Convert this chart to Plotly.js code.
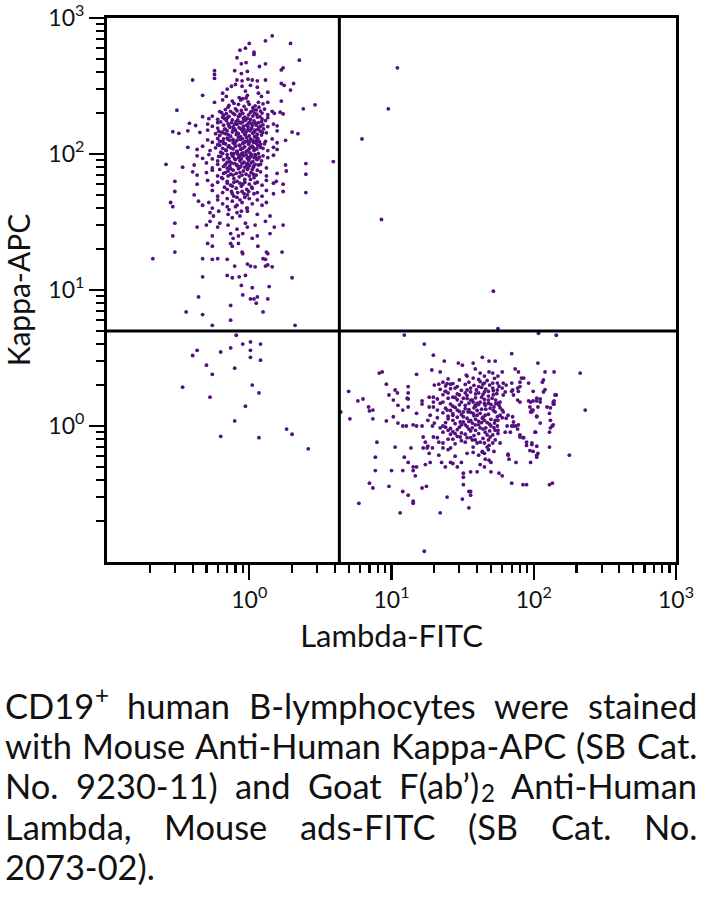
<!DOCTYPE html>
<html><head><meta charset="utf-8">
<script src="https://cdn.plot.ly/plotly-3.0.1.min.js"></script>
<style>html,body{margin:0;padding:0;background:#fff;}#chart{width:706px;height:908px;}</style>
</head><body><div id="chart"></div>
<script>
// ---- data: events as [Lambda-FITC, Kappa-APC] ----
const kappaEvents = [
[1.45,740],[1.3,680],[1.95,650],[1.0,650],[0.94,600],[0.86,580],[1.08,560],[1.08,540],[0.82,510],[2.25,490],[0.95,470],[0.88,460],[1.18,440],[1.3,460],[1.73,430],[1.68,415],[0.57,410],[0.57,385],[0.57,360],[0.79,410],[0.97,405],[0.88,390],[0.4,350],[0.82,350],[0.89,345],[0.98,355],[1.05,350],[1.14,345],[1.3,350],[1.68,330],[1.76,320],[2.05,330],[0.8,325],[0.75,315],[0.89,315],[1.02,320],[1.14,310],[1.35,285],[1.95,295],[0.7,300],[0.65,280],[0.94,290],[0.97,270],[1.16,280],[1.22,265],[0.47,270],[0.85,260],[0.87,250],[0.9,255],[0.95,258],[1.68,245],[1.35,240],[1.16,240],[2.9,230],[0.57,240],[0.65,250],[0.69,265],[2.4,215],[0.31,210],
[0.62,205],[0.69,198],[0.82,208],[0.86,196],[1.02,202],[1.07,210],[1.23,200],[1.35,195],[1.45,206],[1.5,199],[1.65,203],[1.73,197],
[0.47,188],[0.52,182],[0.55,190],[0.6,180],[0.65,186],[0.7,184],[0.76,178],[0.84,189],[0.91,183],[1.02,180],[1.14,187],[1.23,181],[1.35,185],
[0.38,168],[0.42,162],[0.51,166],[0.55,160],[0.6,170],[0.66,163],[0.71,167],[0.77,158],[0.82,165],[0.86,171],[0.91,160],[0.98,166],[1.05,162],[1.1,169],[1.25,164],[1.35,159],[1.48,166],[1.57,161],
[0.29,146],[0.32,142],[0.37,148],[0.45,144],[0.51,150],[0.58,141],[0.61,147],[0.65,143],[0.68,152],[0.71,139],[0.76,145],[0.8,149],[0.84,141],[0.9,146],[0.94,138],[0.98,151],[1.07,144],[1.14,140],[1.2,147],[1.32,143],[1.57,148],[2.0,145],[2.2,141],
[0.51,127],[0.55,122],[0.6,130],[0.65,124],[0.68,119],[0.71,128],[0.77,121],[0.82,126],[0.86,131],[0.9,120],[0.97,125],[1.02,129],[1.07,122],[1.14,127],[1.2,118],[1.3,124],[1.45,129],[1.57,121],[1.8,126],
[0.37,112],[0.43,108],[0.47,114],[0.53,106],[0.58,111],[0.62,116],[0.68,107],[0.71,113],[0.77,109],[0.82,104],[0.86,115],[0.9,110],[0.97,106],[1.02,112],[1.1,108],[1.15,115],[1.25,110],[1.35,106],[1.48,112],[1.57,108],
[0.43,97],[0.47,93],[0.52,99],[0.55,92],[0.61,96],[0.65,101],[0.7,94],[0.76,98],[0.8,91],[0.86,97],[0.9,102],[0.97,93],[1.02,96],[1.1,99],[1.15,92],[1.25,97],[1.35,94],[1.48,98],
[0.26,84],[0.34,80],[0.41,83],[0.5,86],[0.55,79],[0.6,84],[0.66,81],[0.7,87],[0.74,78],[0.82,83],[0.86,80],[0.97,85],[1.07,81],[1.2,84],[1.32,79],[1.8,83],[2.5,85],[3.9,88],
[0.4,74],[0.43,70],[0.5,73],[0.55,76],[0.6,69],[0.66,72],[0.71,75],[0.77,70],[0.86,73],[0.97,77],[1.07,71],[1.2,74],[1.32,69],[1.57,72],[1.82,75],[2.5,71],
[0.3,63],[0.43,60],[0.51,64],[0.55,59],[0.6,62],[0.65,66],[0.7,61],[0.76,58],[0.82,63],[0.9,60],[1.02,65],[1.14,62],[1.23,59],[1.32,64],[1.48,61],[1.55,63],[1.73,60],
[0.3,53],[0.41,50],[0.55,54],[0.6,49],[0.65,52],[0.7,55],[0.76,51],[0.82,48],[0.89,53],[0.97,50],[1.05,56],[1.14,52],[1.23,49],[1.32,54],[1.48,51],[1.73,53],[2.5,52],
[0.28,44],[0.29,41],[0.44,45],[0.47,42],[0.52,44],[0.55,40],[0.6,46],[0.65,43],[0.7,41],[0.76,45],[0.82,42],[0.89,44],[0.97,40],[1.05,43],[1.14,46],[1.23,42],[1.32,44],
[0.53,37],[0.56,35],[0.61,38],[0.71,36],[0.76,34],[0.82,37],[0.86,35],[0.97,38],[1.14,36],[1.4,35],
[0.3,31],[0.43,29],[0.5,30],[0.53,32],[0.6,29],[0.62,31],[0.71,30],[0.82,28],[0.94,31],[0.97,29],[1.1,30],[1.3,32],[1.5,29],[1.73,30],
[0.55,25],[0.74,26],[0.77,24],[0.84,25],[0.9,26],[1.05,24],[1.14,25],[1.4,26],[0.29,25],
[0.51,22],[0.55,21],[0.74,22],[0.76,21],[0.84,22],[1.15,21],
[0.3,19],[0.89,19],[0.9,18.5],[1.32,19],[1.35,18.5],[1.7,19],
[0.21,17],[0.47,17],[0.55,16.8],[0.6,17],[0.7,16.8],[1.25,17],[1.3,16.8],
[0.79,15],[0.97,15.5],[1.02,15],[1.1,14.8],[1.3,15],[1.35,15.3],[1.45,14.8],
[0.47,12.5],[0.7,12.8],[0.76,12.3],[0.85,12.5],[0.94,12.8],[2.0,12.3],
[0.88,10.8],[1.05,10.4],[1.38,10.6],
[0.44,8.9],[0.9,9.2],[1.02,8.6],[1.08,8.6],[1.14,8.9],[1.35,8.6],[0.74,7.7],[1.12,8.0],[0.36,6.9],[0.47,6.6],[1.25,6.9],[0.55,5.5],[0.74,6.0],[2.1,5.5],
[0.72,228],[0.78,236],[0.92,224],[1.0,232],[1.1,226],[1.25,234],
[0.68,212],[0.74,206],[0.8,215],[0.88,209],[0.95,213],[1.03,205],[1.12,211],[1.2,207],[1.28,214],
[0.66,193],[0.72,189],[0.79,195],[0.86,191],[0.93,187],[0.99,194],[1.06,190],[1.13,196],[1.19,188],
[0.63,172],[0.69,176],[0.75,170],[0.81,174],[0.87,169],[0.94,177],[1.0,171],[1.08,175],[1.16,170],[1.22,173],[1.3,176],
[0.6,155],[0.67,152],[0.73,157],[0.79,153],[0.85,156],[0.92,151],[0.98,158],[1.04,154],[1.1,150],[1.17,157],[1.26,153],
[0.62,137],[0.68,141],[0.74,135],[0.81,139],[0.87,134],[0.93,140],[1.0,136],[1.06,142],[1.12,133],[1.22,138],
[0.7,131],[0.77,128],[0.84,133],[0.9,129],[0.96,132],[1.03,127],[1.09,134],[1.15,130],
[0.6,117],[0.66,120],[0.72,115],[0.79,119],[0.85,116],[0.92,121],[0.99,118],[1.05,114],[1.12,120],[1.19,116],[1.28,119],
[0.63,103],[0.69,106],[0.75,101],[0.82,105],[0.88,100],[0.95,104],[1.01,102],[1.08,106],[1.16,101],
[0.7,99],[0.77,96],[0.83,100],[0.91,97],[0.97,95],[1.04,99],[1.11,96],
[0.6,89],[0.66,91],[0.73,88],[0.79,92],[0.86,89],[0.92,87],[0.99,90],[1.06,88],[1.13,91],[1.22,89],
[0.68,84],[0.75,86],[0.82,82],[0.89,85],[0.96,83],[1.03,86],[1.1,84],
[0.62,77],[0.7,79],[0.77,76],[0.84,78],[0.91,75],[0.98,79],[1.05,77],[1.14,76],
[0.64,67],[0.71,69],[0.78,66],[0.85,68],[0.93,65],[1.0,69],[1.08,67],
[0.67,57],[0.74,59],[0.81,56],[0.88,58],[0.96,55],[1.04,57],
[0.7,47],[0.78,49],[0.86,46],[0.93,48],[1.0,47],
[0.72,39],[0.8,41],[0.88,38],[0.96,40],
[0.76,245],[0.84,232],[0.98,242],[1.06,219],[0.71,221],[0.9,199],[0.97,183],[1.09,198],[0.77,199],[0.64,201],[1.17,221],
[0.83,178],[0.9,172],[0.96,163],[1.04,168],[0.72,161],[0.79,166],[1.12,163],[1.2,160],[0.67,182],
[0.7,148],[0.77,151],[0.82,143],[0.88,152],[0.95,145],[1.01,148],[1.09,146],[1.15,152],[1.24,144],[0.64,145],
[0.73,126],[0.8,123],[0.87,128],[0.94,123],[1.0,122],[1.06,126],[1.12,125],[1.18,123],[0.66,129],[0.62,124],
[0.74,111],[0.8,114],[0.87,108],[0.93,113],[1.0,109],[1.07,111],[1.13,109],[1.2,112],[0.65,110],
[0.72,93],[0.78,101],[0.84,94],[0.88,92],[0.95,99],[1.0,93],[1.08,94],[1.18,95],[0.63,96],
[0.73,82],[0.79,85],[0.87,81],[0.93,80],[1.0,82],[1.07,80],[1.16,83],
[0.68,73],[0.74,71],[0.81,72],[0.89,70],[0.95,71],[1.03,73],[1.12,70],
[0.7,63],[0.78,62],[0.86,61],[0.93,62],[1.0,60],[1.1,61],
[0.75,53],[0.83,52],[0.92,51],[0.99,53],[1.08,51]
];
const lambdaEvents = [
[12.3,4.66],[17,4.0],[19.7,3.32],[23.5,3.0],[29.5,2.9],[31.5,2.8],[8.2,2.45],[8.6,2.5],[15,2.4],[19.2,2.58],[22,2.5],[5.0,1.8],[4.4,1.27],[5.1,1.13],[9.2,2.03],[9.6,1.69],[10.6,1.84],[11,1.75],[13.1,1.95],[13.1,1.75],[12.9,1.6],[13.1,1.58],
[7.4,1.31],[7.4,1.13],[9.2,1.09],[10.3,1.17],[12,1.31],[13.1,1.38],[15,1.24],[16.4,1.53],[16.4,1.45],[18.4,1.63],[18.4,1.38],[21.5,2.03],[23,2.1],[24.6,2.05],[26,2.03],[23.9,1.8],[19.7,1.5],[21,1.31],[5.8,1.53],[6.3,1.58],[6.9,1.38],[7,1.29],[10.3,1.55],[11.1,1.42],[11.1,1.05],[12,1.0],[12.7,1.0],[14.2,1.02],[15,1.0],[16.4,1.0],[7.9,0.76],[10.6,0.7],[13.7,0.69],[7.7,0.59],[7.7,0.47],[10,0.47],[12,0.47],[12.3,0.59],[13.1,0.54],[14.2,0.5],[14.2,0.47],[15,0.5],[14.7,0.43],[16.7,0.69],[18.4,0.63],[17.3,0.52],[18.7,0.54],[21.5,0.61],[22.5,0.54],[23.9,0.5],[26,0.54],[7,0.38],[7.4,0.35],[9.6,0.36],[12,0.33],[13.1,0.31],[14.2,0.28],[14.2,0.27],[16.4,0.35],[17.6,0.36],[5.9,0.27],[11.5,0.23],[22,0.23],[24.6,0.3],[31.5,0.29],[17,0.12],[32,0.45],[32,0.37],[35,0.33],[35,0.25],
[70,3.4],[43.5,3.2],[37.5,2.9],[48.5,3.0],[53.6,3.0],[107,2.9],[212,2.45],[230,1.31],[178,0.61],[129,0.7],[38.8,2.63],[42,2.45],[45,2.33],[48.5,2.5],[51.5,2.45],[60,2.5],[56,2.33],[34,2.33],[37.5,2.25],[74,2.63],[78,2.5],[82,2.25],[70,2.07],[92,2.07],[115,2.1],[117,2.18],[120,2.5],[139,2.5],[99,1.8],[117,1.78],[120,1.85],[139,1.53],[139,1.45],[144,1.69],[129,1.24],[95,1.5],[95,1.27],[99,1.31],[107,1.38],[105,1.18],[111,1.05],[135,1.0],[137,1.02],[129,0.9],[103,0.9],[89,0.72],[97,0.73],[94,0.66],[99,0.65],[105,0.59],[107,0.63],[95,0.54],[70,0.38],[84,0.37],[89,0.37],[129,0.37],[135,0.38],[66,0.62],[67,0.57],[75,0.54],[78,1.02],[80,0.86],[84,0.82],[72,1.07],[70,1.0],[75,1.0],[64,1.14],[65,1.0],[92,1.53],[99,1.53],[105,1.53],[94,1.38],[97,1.31],[105,1.6],[111,1.58],[124,1.38],[131,1.36],[70,1.8],[80,1.95],[78,1.8],[72,1.69],[77,1.55],[61,1.69],[58,1.5],[56,1.47],[60,1.31],[58,1.2],[53.6,1.1],[55.5,1.0],[53.6,0.93],[56,0.88],[49.4,0.83],[51.5,0.75],[47,0.7],[48.5,0.72],[45,0.63],[45.6,0.57],[48.5,0.56],[50,0.54],[42,0.52],[45,0.5],[50,0.46],[57,0.45],[60,0.43],[36,0.46],[40,0.46],[32,0.42],[36,0.33],[36,0.31],[27,0.53],[29,0.5],[31,0.54],[28,0.6],[26,0.69],[34,0.63],[37.5,0.64],[41,0.61],[43.5,0.64],
[33.5,2.37],[28,1.9],[34,1.84],[36,1.78],[41,1.95],[25,1.75],[27,1.63],[30,1.69],[32,1.6],[37.5,1.5],[40,1.47],[19.7,1.63],[19.7,1.38],[22,1.47],[18.7,1.2],[18,1.1],[19.4,1.0],[24.6,1.31],[27,1.2],[29,1.31],[32,1.27],[34.5,1.27],[37.5,1.24],[30.4,1.07],[33,1.02],[37,0.97],[41,1.02],[23,1.0],[25,0.93],[28,0.88],[30.4,0.83],[34,0.82],[38.8,0.79],[37.5,0.7],[19.7,0.83],[21.5,0.76],[17.8,0.69],[19.4,0.69],[23,0.69],[25,0.67],[16.7,0.83],[17.3,0.76],[18,0.71],
[45,2.07],[51.5,2.07],[55.5,2.07],[61,2.07],[64,2.0],[80,2.1],[85,2.25],[39.5,1.84],[41,1.75],[51.5,1.9],[55.5,1.84],[60,1.9],[63,1.78],[71,1.84],[77,1.9],[141,1.69],[80,1.5],[111,1.5],[137,1.5],[137,1.45],[36,1.55],[38.8,1.42],[42,1.5],[45.6,1.42],[48,1.47],[49.4,1.35],[52.5,1.38],[58,1.36],[61,1.27],[66,1.2],[71,1.17],[53.6,1.27],[55.5,1.17],[97,1.27],[105,1.17],[131,1.1],[131,0.97],[102,0.9],[40,1.2],[43.5,1.14],[45.6,1.2],[36,1.1],[38.8,1.02],[42,0.97],[45.6,0.9],[50,1.0],[52.5,0.97],[51.5,0.86],[56,0.93],[63,0.9],[68.4,0.9],[72,1.0],[77,0.95],[80,0.83],[85,0.82],[37,0.79],[40,0.75],[45,0.75],[48,0.79],[53.6,0.79],[58,0.75],[89,0.76],[97,0.75],[105,0.71],[43.5,0.65],[48,0.67],[52.5,0.65],[66,0.61],[105,0.61],
[25,2.22],[30,2.18],[41,2.2],[47,2.16],[53,2.24],[20,2.0],[24,1.97],[33,2.02],[38,1.99],[44,2.03],[57,1.96],[22,1.86],[26,1.88],[31,1.83],[46,1.87],[52,1.82],[23,1.7],[29,1.72],[34,1.68],[44,1.71],[48,1.66],[55,1.73],[21,1.58],[25,1.6],[29,1.56],[34,1.59],[39,1.61],[45,1.57],[51,1.6],[26,1.45],[30,1.43],[35,1.47],[41,1.44],[54,1.46],[24,1.35],[28,1.37],[33,1.34],[38,1.36],[43,1.33],[23,1.25],[27,1.23],[31,1.21],[36,1.26],[42,1.24],[48,1.22],[21,1.15],[25,1.13],[29,1.16],[34,1.14],[39,1.12],[45,1.1],[60,1.15],[20,1.05],[24,1.06],[28,1.04],[32,1.07],[37,1.05],[43,1.06],[49,1.03],[22,0.97],[26,0.96],[30,0.98],[35,0.95],[46,0.97],[23,0.9],[27,0.91],[31,0.89],[36,0.92],[41,0.88],[21,0.82],[25,0.8],[29,0.84],[44,0.81],[23,0.75],[28,0.74],[33,0.76],
[27,2.05],[35,2.1],[42,2.12],[49,2.0],[29,1.95],[36,1.9],[43,1.92],[48,1.8],[24,1.8],[33,1.75],[39,1.72],[45,1.78],[52,1.7],
[28,1.62],[31,1.5],[37,1.55],[43,1.63],[48,1.55],[54,1.55],[23,1.5],[27,1.4],[33,1.42],[39,1.4],[45,1.47],[50,1.44],[57,1.42],
[26,1.3],[30,1.28],[35,1.32],[40,1.3],[46,1.33],[52,1.3],[25,1.18],[32,1.17],[38,1.19],[44,1.16],[50,1.12],[56,1.1],
[27,1.1],[31,1.02],[35,1.08],[41,1.08],[47,1.06],[53,1.05],[24,0.98],[29,0.94],[34,0.99],[39,0.93],[44,0.95],[49,0.92],
[26,0.87],[33,0.87],[38,0.85],[47,0.86],[27,0.8],[31,0.78],[36,0.82],[42,0.76]
];
const negativeEvents = [
[0.81,4.65],[0.9,4.0],[1.02,4.15],[1.2,4.0],[0.43,3.6],[0.4,3.3],[0.63,3.5],[0.74,3.75],[1.02,3.6],[1.02,3.2],[1.2,3.05],[0.5,2.8],[0.79,2.66],[0.55,2.4],[0.34,1.93],[1.05,2.0],[1.17,1.75],[0.53,1.63],[0.94,1.4],[0.79,1.09],[0.63,0.84],[1.17,0.82],[1.83,0.95],[2.0,0.87],[2.6,0.68]
];
const doubleEvents = [[11,430],[9.5,215],[6.2,129],[8.5,33],[52,9.8],[56,5.2],[108,4.8],[144,4.65]];

const gateLambda = 4.3;   // vertical quadrant marker (Lambda-FITC)
const gateKappa = 5.0;    // horizontal quadrant marker (Kappa-APC)
const axisMin = 0.1, axisMax = 1000;

const tickVals = [1, 10, 100, 1000];
const tickText = ['10<sup>0</sup>', '10<sup>1</sup>', '10<sup>2</sup>', '10<sup>3</sup>'];
const minorTickVals = [0.2,0.3,0.4,0.5,0.6,0.7,0.8,0.9,2,3,4,5,6,7,8,9,20,30,40,50,60,70,80,90,200,300,400,500,600,700,800,900];

const xTitle = 'Lambda-FITC';
const yTitle = 'Kappa-APC';
const captionLines = [
  'CD19<sup>+</sup> human B-lymphocytes were stained',
  'with Mouse Anti-Human Kappa-APC (SB Cat.',
  'No. 9230-11) and Goat F(ab’)<sub>2</sub> Anti-Human',
  'Lambda, Mouse ads-FITC (SB Cat. No.',
  '2073-02).'
];

// ---- styling ----
const FONT = 'Lato, "Open Sans", sans-serif';
const dotColor = '#54107f';
const M = {l: 107, r: 30, t: 18, b: 346};
const W = 706, H = 908;
const plotW = W - M.l - M.r, plotH = H - M.t - M.b;

const allEvents = kappaEvents.concat(lambdaEvents, negativeEvents, doubleEvents);

const traces = [
  {
    type: 'scatter', mode: 'markers',
    x: allEvents.map(p => p[0]), y: allEvents.map(p => p[1]),
    marker: {size: 3.8, color: dotColor, line: {width: 0}},
    hoverinfo: 'skip', showlegend: false, cliponaxis: true
  },
  {
    type: 'scatter', mode: 'lines',
    x: [gateLambda, gateLambda], y: [axisMin, axisMax],
    line: {color: '#000', width: 3}, hoverinfo: 'skip', showlegend: false
  },
  {
    type: 'scatter', mode: 'lines',
    x: [axisMin, axisMax], y: [gateKappa, gateKappa],
    line: {color: '#000', width: 3}, hoverinfo: 'skip', showlegend: false
  }
];

function axisCommon() {
  return {
    type: 'log',
    range: [Math.log10(axisMin), Math.log10(axisMax)],
    tickmode: 'array', tickvals: tickVals, ticktext: tickText,
    ticks: 'outside', ticklen: 15, tickwidth: 2.2, tickcolor: '#000',
    tickfont: {family: FONT, size: 23, color: '#111'},
    minor: {tickmode: 'array', tickvals: minorTickVals, ticks: 'outside', ticklen: 8, tickwidth: 2.2, tickcolor: '#000', showgrid: false},
    showline: true, linewidth: 3, linecolor: '#000', mirror: true,
    showgrid: false, zeroline: false, fixedrange: true, automargin: false
  };
}

// ---- caption: justified lines, laid out word by word ----
const capLeft = 5, capRight = 697;
const capLineY = [705, 745, 786, 826, 866];
const ctx = document.createElement('canvas').getContext('2d');
function textW(t, s) { ctx.font = s + 'px Lato'; return ctx.measureText(t).width; }
function splitWord(word) {
  const out = [];
  word.split(/(<su[pb]>.*?<\/su[pb]>)/).forEach(part => {
    const m = part.match(/^<(su[pb])>(.*)<\/su[pb]>$/);
    if (m) out.push({t: m[2], kind: m[1]});
    else if (part) out.push({t: part, kind: 'base'});
  });
  return out;
}
function wordW(word, s) {
  return splitWord(word).reduce((a, p) => a + textW(p.t, p.kind === 'base' ? s : s * 0.7), 0);
}
// font size chosen so that the fullest line (line 2) sets naturally
const refLine = captionLines[1].split(' ');
const refW33 = refLine.reduce((a, w) => a + wordW(w, 33), 0) + (refLine.length - 1) * textW(' ', 33);
const capSize = Math.min(38, 33 * 686 / refW33);

const annotations = [];
function addText(t, px, py, size) {
  annotations.push({
    xref: 'paper', yref: 'paper',
    x: (px - M.l) / plotW, y: (H - M.b - py) / plotH,
    xanchor: 'left', yanchor: 'middle',
    text: t, showarrow: false, borderpad: 0, borderwidth: 0,
    font: {family: FONT, size: size, color: '#111'}
  });
}
captionLines.forEach((line, i) => {
  const words = line.split(' ');
  const widths = words.map(w => wordW(w, capSize));
  const sum = widths.reduce((a, b) => a + b, 0);
  const last = i === captionLines.length - 1;
  const gap = (!last && words.length > 1) ? (capRight - capLeft - sum) / (words.length - 1) : textW(' ', capSize);
  let px = capLeft;
  words.forEach((w, j) => {
    let qx = px;
    splitWord(w).forEach(p => {
      if (p.kind === 'base') { addText(p.t, qx, capLineY[i], capSize); qx += textW(p.t, capSize); }
      else {
        const s = capSize * 0.7;
        const dy = p.kind === 'sup' ? -0.3 * capSize : 0.18 * capSize;
        addText(p.t, qx + 1, capLineY[i] + dy, s);
        qx += textW(p.t, s);
      }
    });
    px += widths[j] + gap;
  });
});

const layout = {
  width: W, height: H,
  margin: M,
  paper_bgcolor: '#fff', plot_bgcolor: '#fff',
  font: {family: FONT, color: '#111'},
  showlegend: false,
  xaxis: Object.assign(axisCommon(), {
    title: {text: xTitle, font: {family: FONT, size: 31, color: '#111'}, standoff: 14}
  }),
  yaxis: Object.assign(axisCommon(), {
    title: {text: yTitle, font: {family: FONT, size: 30, color: '#111'}, standoff: 18}
  }),
  annotations: annotations
};

Plotly.newPlot('chart', traces, layout, {displayModeBar: false, staticPlot: true});
</script>
</body></html>
